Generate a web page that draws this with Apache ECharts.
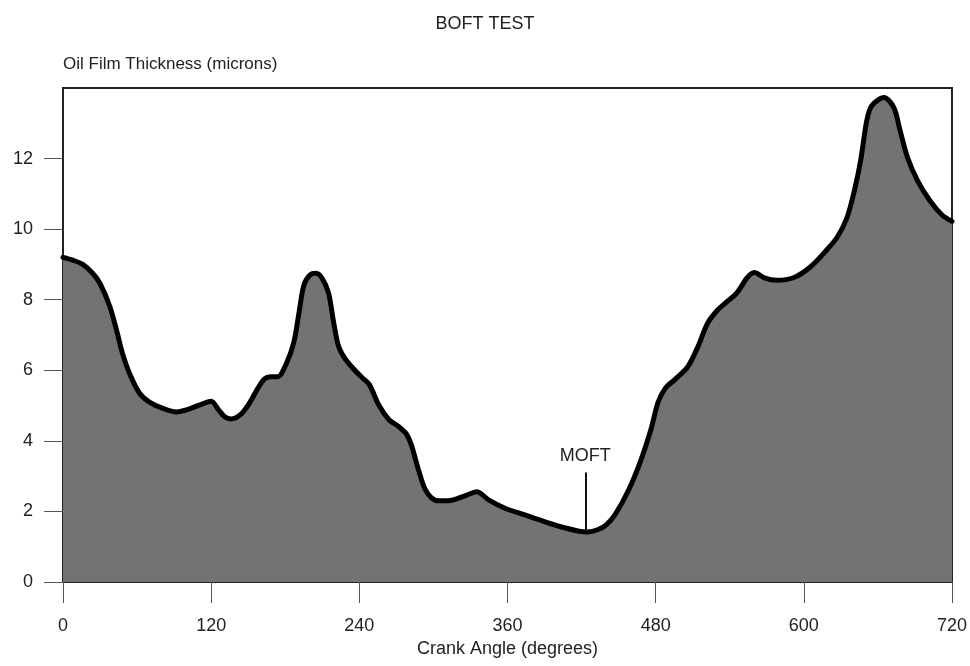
<!DOCTYPE html>
<html>
<head>
<meta charset="utf-8">
<title>BOFT TEST</title>
<script src="https://cdn.jsdelivr.net/npm/echarts@6/dist/echarts.min.js"></script>
<style>
    html, body { margin: 0; padding: 0; background: #fff; }
    #chart { width: 970px; height: 666px; }
</style>
</head>
<body>
<div id="chart"></div>
<script>
// crank angle (degrees)
const crankAngle = [
    0, 8, 16, 24, 30, 38, 44, 48, 54, 62, 70, 81, 92, 102, 113, 120, 126, 131, 136, 144,
    151, 158, 163, 168, 174, 181, 187, 191, 195, 200, 205, 210, 215, 219, 223, 228, 235, 242, 248, 256,
    264, 272, 278, 282, 288, 293, 298, 304, 312, 326, 335, 345, 358, 374, 391, 407, 418, 425, 433, 440,
    447, 458, 468, 476, 482, 488, 496, 506, 514, 522, 530, 538, 546, 554, 560, 568, 578, 592, 605, 617,
    627, 635, 641, 646, 651, 655, 665, 673, 678, 684, 692, 702, 712, 720
];
// oil film thickness (microns) at each angle
const filmThickness = [
    9.2, 9.12, 9.0, 8.75, 8.46, 7.8, 7.05, 6.5, 5.9, 5.35, 5.1, 4.92, 4.82, 4.9, 5.05, 5.12, 4.88, 4.68, 4.62, 4.75,
    5.07, 5.5, 5.75, 5.82, 5.82, 6.2, 6.8, 7.6, 8.4, 8.7, 8.75, 8.6, 8.2, 7.4, 6.7, 6.35, 6.05, 5.8, 5.6, 5.0,
    4.6, 4.4, 4.2, 3.9, 3.17, 2.65, 2.4, 2.3, 2.3, 2.45, 2.56, 2.32, 2.09, 1.9, 1.7, 1.53, 1.44, 1.42, 1.48, 1.62,
    1.9, 2.6, 3.45, 4.3, 5.1, 5.5, 5.75, 6.1, 6.65, 7.33, 7.7, 7.95, 8.2, 8.62, 8.77, 8.62, 8.55, 8.63, 8.92, 9.35,
    9.77, 10.33, 11.1, 11.94, 13.08, 13.5, 13.73, 13.44, 12.79, 12.03, 11.38, 10.81, 10.4, 10.22
];
const xTicks = [0, 120, 240, 360, 480, 600, 720];
const yTicks = [0, 2, 4, 6, 8, 10, 12];
// minimum oil film thickness marker
const moftAngle = 423;
const moftLine = [1.45, 3.1];

const font = '"Liberation Sans", Arial, Helvetica, sans-serif';
const chart = echarts.init(document.getElementById('chart'));

const option = {
    backgroundColor: '#fff',
    animation: false,
    title: {
        text: 'BOFT TEST',
        left: 'center',
        top: 10,
        textStyle: { fontFamily: font, fontSize: 18, fontWeight: 'normal', color: '#222' }
    },
    grid: {
        left: 63,
        right: 15,
        top: 88,
        bottom: 84,
        show: true,
        borderColor: '#222',
        borderWidth: 2
    },
    xAxis: {
        type: 'value',
        min: 0,
        max: 720,
        interval: 120,
        name: 'Crank Angle (degrees)',
        nameLocation: 'middle',
        nameGap: 56,
        nameTextStyle: { fontFamily: font, fontSize: 18, color: '#222' },
        axisLine: { show: true, lineStyle: { color: '#222', width: 2 } },
        axisTick: { show: true, inside: false, length: 21, customValues: xTicks, lineStyle: { color: '#555', width: 1 } },
        axisLabel: { margin: 35, customValues: xTicks, fontFamily: font, fontSize: 18, color: '#222' },
        splitLine: { show: false }
    },
    yAxis: {
        type: 'value',
        min: 0,
        max: 14,
        interval: 2,
        name: 'Oil Film Thickness (microns)',
        nameLocation: 'end',
        nameGap: 15,
        nameTextStyle: { fontFamily: font, fontSize: 17, color: '#222', align: 'left' },
        axisLine: { show: true, lineStyle: { color: '#222', width: 2 } },
        axisTick: { show: true, inside: false, length: 19, customValues: yTicks, lineStyle: { color: '#555', width: 1 } },
        axisLabel: { margin: 30, customValues: yTicks, fontFamily: font, fontSize: 18, color: '#222' },
        splitLine: { show: false }
    },
    series: [{
        type: 'line',
        data: crankAngle.map((a, i) => [a, filmThickness[i]]),
        smooth: 0.3,
        symbol: 'none',
        lineStyle: { color: '#000', width: 5, join: 'round', cap: 'round' },
        areaStyle: { color: '#737373', opacity: 1 },
        markLine: {
            silent: true,
            symbol: 'none',
            lineStyle: { color: '#111', width: 2, type: 'solid' },
            label: {
                show: true,
                position: 'end',
                distance: 8,
                formatter: 'MOFT',
                fontFamily: font,
                fontSize: 18,
                color: '#222'
            },
            data: [[
                { coord: [moftAngle, moftLine[0]] },
                { coord: [moftAngle, moftLine[1]] }
            ]]
        }
    }]
};

option && chart.setOption(option);
</script>
</body>
</html>
